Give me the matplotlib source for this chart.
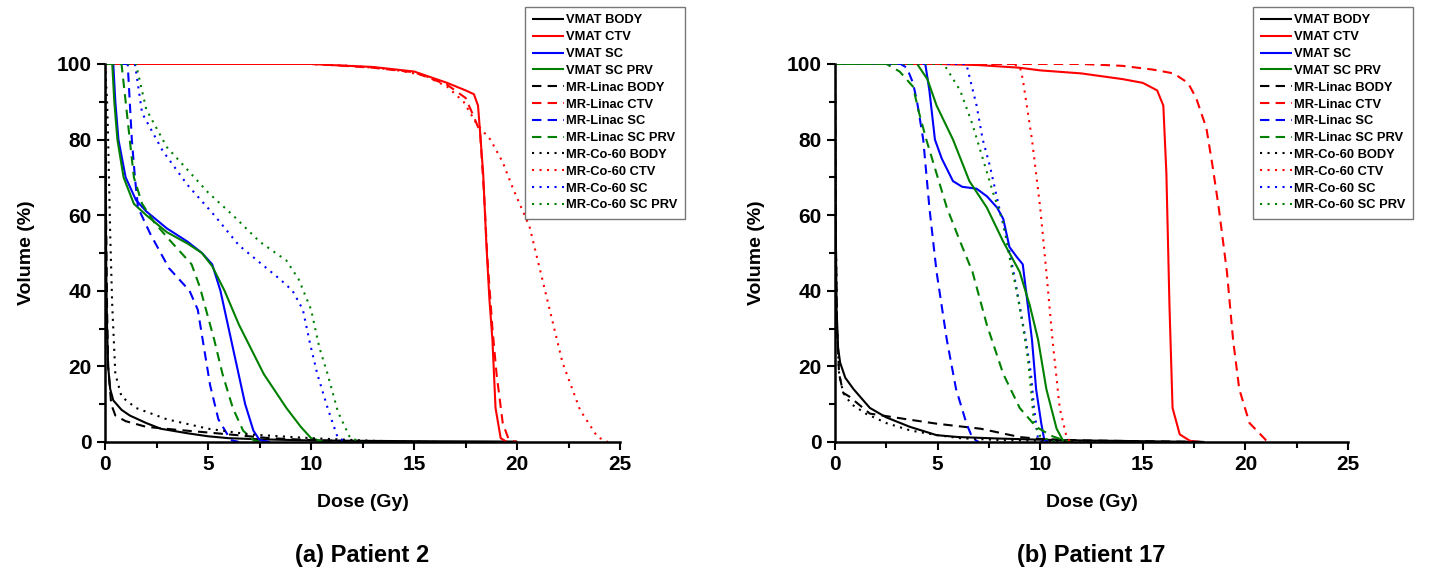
import matplotlib.pyplot as plt
from matplotlib.ticker import MultipleLocator

plt.rcParams['font.family'] = ['Liberation Sans', 'DejaVu Sans']
plt.rcParams['font.weight'] = 'bold'
plt.rcParams['axes.labelweight'] = 'bold'

# DVH points (dose Gy, volume %)

# Patient 2
p2_vmat_body = [(0, 100), (0.03, 70), (0.06, 45), (0.1, 30), (0.15, 20), (0.25, 14), (0.4, 11), (0.8, 8.5),
                (1.2, 7), (2, 5), (2.7, 3.5), (4, 2.3), (5, 1.5), (6, 1), (7.5, 0.7), (10, 0.4), (15, 0.2), (20, 0.1)]
p2_vmat_ctv = [(0, 100), (10, 100), (11, 99.7), (13, 99.2), (15, 98), (16.6, 95), (17.5, 93), (17.9, 92), (18.1, 89),
               (18.2, 82), (18.35, 71), (18.5, 53), (18.65, 38), (18.8, 27), (18.95, 9), (19.2, 1), (19.5, 0)]
p2_vmat_sc = [(0, 100), (0.4, 100), (0.5, 90), (0.65, 80), (1.0, 70), (1.5, 64), (2.0, 61), (3.0, 56.5), (4.0, 53),
              (4.7, 50), (5.2, 47), (5.6, 40), (6.0, 30), (6.4, 20), (6.8, 10), (7.2, 3), (7.5, 0.5), (8, 0)]
p2_vmat_prv = [(0, 100), (0.35, 100), (0.45, 90), (0.6, 80), (0.9, 70), (1.4, 63), (2, 60), (3, 55.5), (4, 52.5),
               (4.7, 50), (5.2, 46.5), (5.8, 40), (6.5, 31), (7.7, 18), (8.8, 9), (9.5, 4), (10, 1), (10.5, 0.2), (11, 0)]
p2_linac_body = [(0, 100), (0.05, 60), (0.1, 35), (0.15, 20), (0.3, 10), (0.5, 7), (1, 5.5), (2, 4), (3.5, 3.2),
                 (5, 2.5), (7, 1.5), (8, 1), (10, 0.5), (12, 0.2), (16, 0)]
p2_linac_ctv = [(0, 100), (10, 100), (11, 99.7), (13, 99), (15, 97.8), (16.6, 94.5), (17.5, 91), (17.9, 86), (18.2, 82),
                (18.4, 65), (18.55, 49), (18.8, 30), (19.0, 18), (19.3, 5), (19.6, 0.5), (20, 0)]
p2_linac_sc = [(0, 100), (1.1, 100), (1.3, 80), (1.45, 70), (1.6, 62), (2.2, 55), (3.1, 46), (4.1, 40), (4.5, 35),
               (4.8, 25), (5.1, 15), (5.5, 6), (6.1, 0.5), (6.5, 0)]
p2_linac_prv = [(0, 100), (0.8, 100), (1.1, 85), (1.4, 70), (1.8, 63), (2.4, 58), (3.2, 53), (4.2, 47), (4.6, 41),
                (5.0, 33), (5.3, 27), (5.7, 18), (6.2, 9), (6.7, 3), (7.2, 0.5), (7.6, 0)]
p2_co60_body = [(0, 100), (0.1, 90), (0.15, 80), (0.25, 55), (0.35, 36), (0.5, 18), (0.8, 12), (1.5, 9), (3, 6),
                (5, 3.5), (7, 2), (10, 1), (13, 0.3), (16, 0)]
p2_co60_ctv = [(0, 100), (10, 100), (12, 99.5), (14, 98.5), (15.5, 97), (16.6, 94), (17.4, 90), (18.05, 84), (18.7, 80),
               (19.3, 74), (19.8, 67), (20.6, 57), (21.4, 39), (22.2, 21), (23.05, 8.5), (23.9, 1.3), (24.4, 0)]
p2_co60_sc = [(0, 100), (1.45, 100), (1.8, 87), (2.8, 77), (4.0, 68), (5.3, 60), (6.5, 52), (8.5, 43), (9.1, 40),
              (9.6, 35), (9.95, 26), (10.3, 18), (10.8, 9), (11.3, 1), (11.8, 0)]
p2_co60_prv = [(0, 100), (1.5, 100), (2.0, 88), (3.0, 78), (4.0, 72), (5.0, 66), (6.2, 60), (7.5, 53), (8.8, 48),
               (9.4, 43), (10, 35), (10.4, 25), (10.8, 18), (11.3, 8), (11.9, 1), (12.5, 0)]

# Patient 17
p17_vmat_body = [(0, 100), (0.03, 60), (0.08, 35), (0.15, 25), (0.25, 21), (0.5, 17), (0.9, 14), (1.7, 9), (2.5, 6.5),
                 (3.65, 4), (4.95, 1.8), (6, 1.3), (8, 0.9), (10, 0.6), (12, 0.4), (15, 0.2), (18, 0)]
p17_vmat_ctv = [(0, 100), (5, 100), (7, 99.7), (9, 99), (10, 98.3), (12, 97.5), (14, 96), (15, 95), (15.7, 93),
                (16.0, 89), (16.15, 71), (16.3, 36), (16.45, 9), (16.8, 2), (17.3, 0.3), (17.8, 0)]
p17_vmat_sc = [(0, 100), (4.4, 100), (4.6, 93), (4.87, 80), (5.2, 75), (5.75, 69), (6.2, 67.5), (6.9, 67), (7.4, 65),
               (7.9, 62), (8.2, 59), (8.5, 51.6), (8.85, 49), (9.15, 47), (9.4, 36), (9.6, 27), (9.8, 14), (10.05, 5),
               (10.2, 0.5), (10.4, 0)]
p17_vmat_prv = [(0, 100), (4.0, 100), (4.5, 96), (4.95, 89), (5.75, 80), (6.55, 69), (7.4, 62), (8.2, 53), (9.0, 45),
                (9.5, 36), (9.9, 27), (10.3, 14), (10.8, 3.5), (11.1, 0.5), (11.4, 0)]
p17_linac_body = [(0, 100), (0.05, 50), (0.1, 30), (0.2, 18), (0.4, 13), (0.7, 12), (1.7, 7.5), (3.5, 6), (5, 4.8),
                  (7.1, 3.5), (9, 1.3), (10, 0.8), (12, 0.4), (15, 0.2), (18, 0)]
p17_linac_ctv = [(0, 100), (12, 100), (14, 99.5), (15.5, 98.5), (16.5, 97.5), (17.2, 95), (17.6, 91), (18.1, 83),
                 (18.4, 73), (18.7, 62), (19.1, 45), (19.4, 27), (19.7, 14), (20.2, 5), (21, 0.5), (21.2, 0)]
p17_linac_sc = [(0, 100), (3.2, 100), (3.5, 99), (3.8, 95), (4.0, 90), (4.3, 80), (4.6, 62), (4.95, 45), (5.45, 27),
                (5.9, 14), (6.4, 5), (6.7, 1), (7.0, 0)]
p17_linac_prv = [(0, 100), (2.5, 100), (3.15, 98), (3.8, 94), (4.1, 87), (4.45, 80), (4.95, 71), (5.45, 62), (6.1, 53),
                 (6.7, 45), (7.4, 31), (8.2, 18), (9.0, 9), (9.8, 4), (10.6, 1.5), (11.3, 0.2), (11.6, 0)]
p17_co60_body = [(0, 100), (0.05, 50), (0.1, 30), (0.2, 18), (0.4, 13), (0.8, 10), (1.5, 7.5), (2.5, 5), (3.7, 3),
                 (5, 1.8), (6.1, 1), (8, 0.5), (10, 0.3), (13, 0)]
p17_co60_ctv = [(0, 100), (8.5, 100), (9.0, 99.5), (9.15, 96), (9.6, 80), (10.0, 62), (10.3, 45), (10.6, 27),
                (10.95, 9), (11.3, 1), (11.5, 0)]
p17_co60_sc = [(0, 100), (6.4, 100), (6.9, 89), (7.2, 80), (7.55, 73), (8.0, 62), (8.4, 53), (8.7, 45), (9.0, 36),
               (9.3, 27), (9.55, 18), (9.7, 9), (9.9, 0.5), (10.1, 0)]
p17_co60_prv = [(0, 100), (5.3, 100), (6.1, 93), (6.7, 84), (7.2, 75), (7.7, 66), (8.2, 58), (8.5, 49), (8.85, 40),
                (9.15, 31), (9.4, 22), (9.55, 14), (9.7, 5), (10.0, 1.5), (10.5, 0.3), (11, 0)]

structures = ['BODY', 'CTV', 'SC', 'SC PRV']
colors = ['black', 'red', 'blue', 'green']
techniques = ['VMAT', 'MR-Linac', 'MR-Co-60']
styles = [(0, ()), (0, (4.5, 3)), (0, (1, 2.6))]

p2_curves = [[p2_vmat_body, p2_vmat_ctv, p2_vmat_sc, p2_vmat_prv],
             [p2_linac_body, p2_linac_ctv, p2_linac_sc, p2_linac_prv],
             [p2_co60_body, p2_co60_ctv, p2_co60_sc, p2_co60_prv]]
p17_curves = [[p17_vmat_body, p17_vmat_ctv, p17_vmat_sc, p17_vmat_prv],
              [p17_linac_body, p17_linac_ctv, p17_linac_sc, p17_linac_prv],
              [p17_co60_body, p17_co60_ctv, p17_co60_sc, p17_co60_prv]]

fig = plt.figure(figsize=(14.31, 5.71), dpi=100)


def draw_panel(rect, curves, title):
    ax = fig.add_axes(rect)
    for t, tech in enumerate(techniques):
        for s, struct in enumerate(structures):
            pts = curves[t][s]
            ax.plot([p[0] for p in pts], [p[1] for p in pts], color=colors[s],
                    linestyle=styles[t], lw=1.5, label=tech + ' ' + struct)
    ax.set_xlim(0, 25)
    ax.set_ylim(0, 100)
    ax.spines['top'].set_visible(False)
    ax.spines['right'].set_visible(False)
    ax.spines['left'].set_linewidth(1.8)
    ax.spines['bottom'].set_linewidth(1.8)
    ax.xaxis.set_major_locator(MultipleLocator(5))
    ax.xaxis.set_minor_locator(MultipleLocator(2.5))
    ax.yaxis.set_major_locator(MultipleLocator(20))
    ax.yaxis.set_minor_locator(MultipleLocator(10))
    ax.tick_params(which='major', direction='out', length=6, width=1.5, labelsize=15)
    ax.tick_params(which='minor', direction='out', length=4, width=1.5)
    ax.set_xlabel('Dose (Gy)', fontsize=14, labelpad=14)
    ax.set_ylabel('Volume (%)', fontsize=14, labelpad=16)
    leg = ax.legend(loc='upper left', bbox_to_anchor=(0.815, 1.15), fontsize=9.3, frameon=True,
                    fancybox=False, edgecolor='#555555', handlelength=2.5, handletextpad=0.15,
                    labelspacing=0.37, borderpad=0.55, borderaxespad=0)
    leg.get_frame().set_linewidth(1.0)
    ax.text(0.5, -0.30, title, transform=ax.transAxes, ha='center', va='center',
            fontsize=17, fontweight='bold')
    return ax


draw_panel([0.0734, 0.226, 0.360, 0.662], p2_curves, '(a) Patient 2')
draw_panel([0.5835, 0.226, 0.3585, 0.662], p17_curves, '(b) Patient 17')

fig.savefig('out.png', dpi=100)
